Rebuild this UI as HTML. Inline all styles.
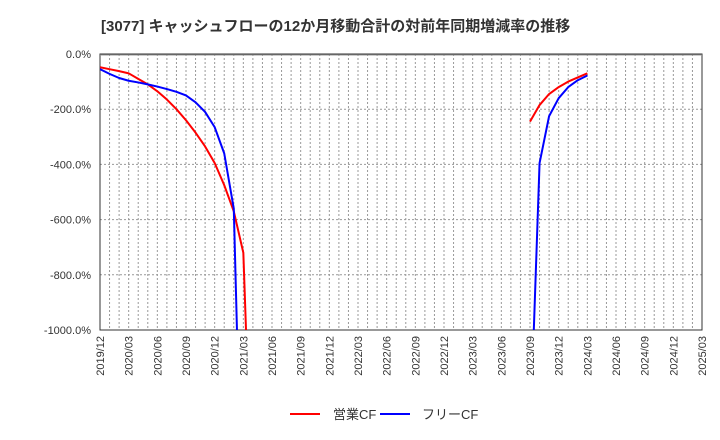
<!DOCTYPE html>
<html><head><meta charset="utf-8"><style>
html,body{margin:0;background:#fff;width:720px;height:440px;overflow:hidden;}
svg{display:block;}
svg text{font-family:"Liberation Sans","Noto Sans CJK JP",sans-serif;}
</style></head><body>
<svg id="c" width="720" height="440" xmlns="http://www.w3.org/2000/svg">
<text x="101" y="31" font-size="15" font-weight="bold" fill="#333">[3077]  キャッシュフローの12か月移動合計の対前年同期増減率の推移</text>
<defs><clipPath id="pc"><rect x="100" y="54" width="602" height="276"/></clipPath></defs>
<g id="grid"></g>
<g id="axes"></g>
<g id="series" clip-path="url(#pc)"></g>
<g>
<line x1="290" y1="414" x2="320" y2="414" stroke="#f00" stroke-width="2"/>
<text x="333" y="419" font-size="13" fill="#333">営業CF</text>
<line x1="380" y1="414" x2="410" y2="414" stroke="#00f" stroke-width="2"/>
<text x="422" y="419" font-size="13" fill="#333">フリーCF</text>
</g>
</svg>
<script>
const months=["2019/12","2020/03","2020/06","2020/09","2020/12","2021/03","2021/06","2021/09","2021/12","2022/03","2022/06","2022/09","2022/12","2023/03","2023/06","2023/09","2023/12","2024/03","2024/06","2024/09","2024/12","2025/03"];
const yTicks=[0,-200,-400,-600,-800,-1000];
const opIdx=[0,1,2,3,4,5,6,7,8,9,10,11,12,13,14,15,16,null,45,46,47,48,49,50,51];
const opVal=[-48,-55,-62,-70,-90,-110,-135,-165,-200,-240,-285,-335,-395,-475,-570,-720,-1720,null,-245,-185,-145,-120,-100,-85,-70];
const fcIdx=[0,1,2,3,4,5,6,7,8,9,10,11,12,13,14,15,null,45,46,47,48,49,50,51];
const fcVal=[-55,-72,-87,-97,-103,-110,-118,-127,-137,-150,-175,-210,-265,-360,-560,-1880,null,-1400,-395,-225,-160,-120,-95,-78];
const X0=100,X1=702,Y0=54,Y1=330,NM=63;
const xs=i=>X0+i*(X1-X0)/NM;
const ys=v=>Y0+(-v)/1000*(Y1-Y0);
const NS="http://www.w3.org/2000/svg";
function mk(t,a,p){const e=document.createElementNS(NS,t);for(const k in a)e.setAttribute(k,a[k]);p.appendChild(e);return e;}
const grid=document.getElementById('grid'),axes=document.getElementById('axes'),ser=document.getElementById('series');
for(let i=1;i<NM;i++){const l=mk('line',{x1:xs(i),x2:xs(i),y1:Y0,y2:Y1,stroke:'#999','stroke-dasharray':'2,2','stroke-width':1},grid);

}
yTicks.forEach(v=>{if(v!==0&&v!==-1000){const l=mk('line',{x1:X0,x2:X1,y1:ys(v),y2:ys(v),stroke:'#999','stroke-dasharray':'2,2'},grid);

}
const t=mk('text',{x:91,y:ys(v)+4,'text-anchor':'end','font-size':11,fill:'#333'},axes);t.textContent=v.toFixed(1)+'%';

});
const fr=mk('rect',{x:X0,y:Y0,width:X1-X0,height:Y1-Y0,fill:'none',stroke:'#333'},axes);


mk('line',{x1:X0,x2:X1,y1:Y0+1,y2:Y0+1,stroke:'#999'},axes);
months.forEach((m,k)=>{const x=xs(k*3)+4;const t=mk('text',{x:x,y:336,'text-anchor':'end','font-size':11,fill:'#333',transform:`rotate(-90 ${x} 336)`},axes);t.textContent=m;

});
function draw(idx,val,col,name){let segs=[],cur=[];idx.forEach((i,k)=>{if(i===null){if(cur.length)segs.push(cur);cur=[];}else cur.push(xs(i).toFixed(2)+','+ys(val[k]).toFixed(2));});if(cur.length)segs.push(cur);
segs.forEach(s=>{const p=mk('polyline',{points:s.join(' '),fill:'none',stroke:col,'stroke-width':2,'stroke-linejoin':'round'},ser);

});}
draw(opIdx,opVal,'#f00','operating-cf-line');
draw(fcIdx,fcVal,'#00f','free-cf-line');
</script>
</body></html>
